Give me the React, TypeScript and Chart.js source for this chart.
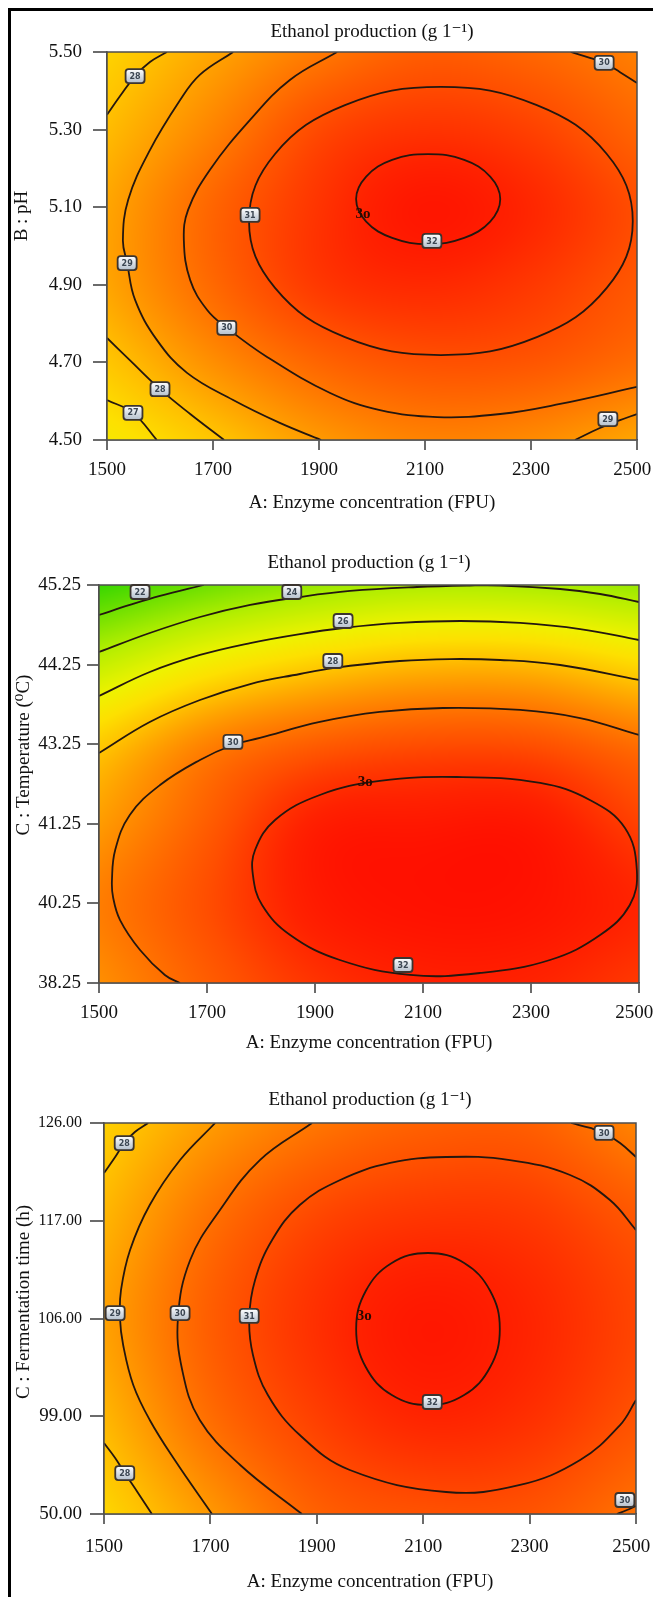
import React, { useEffect, useRef } from 'react';
import { Chart, registerables } from 'chart.js';

Chart.register(...registerables);

const FONT = '"Liberation Serif", "DejaVu Serif", "Times New Roman", serif';
const TEXT = '#111111';
const LINE = '#24170f';

const TITLE = 'Ethanol production (g 1\u207B\u00B9)';
const X_TITLE = 'A: Enzyme concentration (FPU)';
const X_MIN = 1500;
const X_MAX = 2500;
const X_STEP = 200;

// colour scale of the response (g/l)
const COLOR_VALUES = [20, 22, 24, 26, 27, 28, 29, 30, 31, 32, 33];
const COLOR_STOPS = ['#2ad400', '#6ee000', '#b4ee00', '#eef200', '#fde000', '#ffc000', '#ff9a00', '#ff7400', '#ff4e00', '#ff2200', '#ff0000'];

// response read on a grid (columns = enzyme concentration)
const GRID_X = [1500, 1700, 1900, 2100, 2300, 2500];

// ---------- panel 1 : A x B (pH) ----------
const P1_GRID_Y = [4.5, 4.7, 4.9, 5.1, 5.3, 5.5];
const P1_Z = [
  [26.6, 27.8, 29.0, 29.6, 29.4, 28.7],
  [27.8, 29.3, 30.4, 30.9, 30.8, 30.2],
  [28.7, 30.3, 31.5, 31.85, 31.5, 30.75],
  [28.7, 30.4, 31.6, 32.35, 31.9, 31.0],
  [28.1, 29.6, 31.1, 31.6, 31.3, 30.4],
  [27.4, 28.7, 29.85, 30.6, 30.35, 29.7],
];
const P1_C27 = [[1500, 4.603], [1549, 4.570], [1594, 4.5]];
const P1_C28_TOP = [[1500, 5.338], [1525, 5.387], [1553, 5.438], [1581, 5.474], [1613, 5.5]];
const P1_C28_BOTTOM = [[1500, 4.763], [1543, 4.706], [1600, 4.631], [1657, 4.567], [1721, 4.5]];
const P1_C29_LEFT = [[1738, 5.5], [1675, 5.441], [1638, 5.376], [1581, 5.247], [1540, 5.119], [1530, 5.015], [1538, 4.956], [1553, 4.861], [1594, 4.758], [1651, 4.673], [1738, 4.603], [1826, 4.544], [1904, 4.5]];
const P1_C29_RIGHT = [[2383, 4.5], [2430, 4.531], [2468, 4.551], [2500, 4.567]];
const P1_C30_LEFT = [[1934, 5.5], [1845, 5.428], [1770, 5.325], [1694, 5.196], [1653, 5.093], [1645, 5.015], [1657, 4.912], [1689, 4.835], [1726, 4.789], [1802, 4.714], [1921, 4.621], [2015, 4.577], [2123, 4.559], [2242, 4.567], [2355, 4.593], [2500, 4.637]];
const P1_C30_RIGHT = [[2375, 5.5], [2411, 5.485], [2438, 5.472], [2468, 5.448], [2500, 5.42]];
const P1_C31 = [[2130, 5.410], [1949, 5.363], [1817, 5.237], [1768, 5.064], [1817, 4.892], [1949, 4.765], [2130, 4.719], [2311, 4.765], [2443, 4.892], [2492, 5.064], [2443, 5.237], [2311, 5.363]];
const P1_C32 = [[2106, 5.237], [2038, 5.222], [1989, 5.179], [1970, 5.121], [1989, 5.063], [2038, 5.021], [2106, 5.005], [2174, 5.021], [2223, 5.063], [2242, 5.121], [2223, 5.179], [2174, 5.222]];
const P1_LABELS = [
  { x: 1553, y: 5.438, t: '28' }, { x: 2438, y: 5.472, t: '30' }, { x: 1770, y: 5.080, t: '31' },
  { x: 1538, y: 4.956, t: '29' }, { x: 1726, y: 4.789, t: '30' }, { x: 1600, y: 4.631, t: '28' },
  { x: 1549, y: 4.570, t: '27' }, { x: 2113, y: 5.013, t: '32' }, { x: 2445, y: 4.554, t: '29' },
  { x: 1983, y: 5.082, t: '3o', plain: true },
];

// ---------- panel 2 : A x C (temperature) ----------
const P2_Y_LABELS = ['38.25', '40.25', '41.25', '43.25', '44.25', '45.25'];
const P2_GRID_Y = [0, 1, 2, 3, 4, 5];
const P2_Z = [
  [29.3, 30.6, 31.6, 32.05, 32.0, 31.5],
  [29.75, 31.0, 32.2, 32.5, 32.45, 31.95],
  [28.95, 30.6, 32.1, 32.3, 32.3, 31.3],
  [27.69, 29.63, 30.6, 31.0, 30.95, 30.14],
  [24.57, 26.44, 27.56, 28.19, 28.15, 27.24],
  [20.4, 22.0, 23.2, 23.85, 23.75, 23.2],
];
const P2_C22 = [[1500, 4.623], [1557, 4.749], [1613, 4.862], [1694, 5.0]];
const P2_C24 = [[1500, 4.158], [1594, 4.397], [1687, 4.598], [1780, 4.749], [1872, 4.849], [1965, 4.925], [2089, 4.975], [2187, 4.994], [2243, 4.994], [2354, 4.950], [2428, 4.887], [2500, 4.786]];
const P2_C26 = [[1500, 3.606], [1594, 3.907], [1687, 4.121], [1780, 4.271], [1872, 4.384], [1952, 4.460], [2057, 4.523], [2169, 4.548], [2280, 4.523], [2391, 4.447], [2500, 4.309]];
const P2_C28 = [[1500, 2.889], [1594, 3.279], [1687, 3.555], [1780, 3.756], [1872, 3.882], [1933, 3.957], [2057, 4.045], [2150, 4.070], [2243, 4.058], [2354, 3.995], [2500, 3.807]];
const P2_C30 = [[2500, 3.116], [2391, 3.329], [2280, 3.430], [2137, 3.455], [2020, 3.405], [1909, 3.279], [1798, 3.078], [1748, 2.990], [1687, 2.802], [1613, 2.487], [1557, 2.111], [1530, 1.671], [1524, 1.294], [1526, 1.080], [1539, 0.791], [1576, 0.415], [1622, 0.101], [1650, 0]];
const P2_C32 = [[2163, 2.588], [2020, 2.538], [1909, 2.362], [1826, 2.048], [1789, 1.671], [1785, 1.357], [1802, 0.980], [1854, 0.603], [1946, 0.289], [2076, 0.101], [2206, 0.126], [2335, 0.289], [2428, 0.603], [2483, 0.980], [2496, 1.420], [2474, 1.947], [2409, 2.299], [2317, 2.513]];
const P2_LABELS = [
  { x: 1576, y: 4.912, t: '22' }, { x: 1857, y: 4.912, t: '24' }, { x: 1952, y: 4.548, t: '26' },
  { x: 1933, y: 4.045, t: '28' }, { x: 1748, y: 3.028, t: '30' }, { x: 2063, y: 0.226, t: '32' },
  { x: 1993, y: 2.525, t: '3o', plain: true },
];

// ---------- panel 3 : A x C (fermentation time) ----------
const P3_Y_LABELS = ['50.00', '99.00', '106.00', '117.00', '126.00'];
const P3_GRID_Y = [0, 1, 2, 3, 4];
const P3_Z = [
  [27.3, 29.05, 30.5, 30.9, 30.85, 30.05],
  [28.25, 30.2, 31.35, 31.95, 31.7, 30.9],
  [28.8, 30.6, 31.7, 32.3, 31.95, 31.2],
  [28.3, 30.1, 31.2, 31.6, 31.5, 30.8],
  [27.5, 28.95, 29.95, 30.5, 30.55, 29.6],
];
const P3_C28_TOP = [[1500, 3.488], [1521, 3.652], [1538, 3.795], [1558, 3.908], [1583, 4.0]];
const P3_C28_BOTTOM = [[1500, 0.726], [1521, 0.573], [1539, 0.419], [1564, 0.215], [1590, 0]];
const P3_C29 = [[1709, 4.0], [1643, 3.621], [1586, 3.161], [1549, 2.701], [1532, 2.292], [1530, 2.005], [1536, 1.729], [1555, 1.320], [1586, 0.962], [1633, 0.552], [1703, 0]];
const P3_C30_LEFT = [[1891, 4.0], [1793, 3.621], [1718, 3.110], [1662, 2.598], [1639, 2.005], [1647, 1.473], [1680, 0.962], [1756, 0.501], [1872, 0]];
const P3_C30_TOPRIGHT = [[2378, 4.0], [2414, 3.949], [2440, 3.898], [2470, 3.795], [2500, 3.652]];
const P3_C30_BOTTOMRIGHT = [[2464, 0], [2483, 0.041], [2500, 0.082]];
const P3_C31 = [[2500, 2.905], [2451, 3.212], [2376, 3.468], [2263, 3.621], [2143, 3.652], [2038, 3.591], [1944, 3.417], [1868, 3.161], [1816, 2.803], [1784, 2.394], [1773, 2.005], [1780, 1.627], [1808, 1.217], [1868, 0.808], [1962, 0.450], [2143, 0.225], [2282, 0.297], [2395, 0.552], [2470, 0.910], [2500, 1.166]];
const P3_C32 = [[2109, 2.670], [2041, 2.568], [1992, 2.281], [1974, 1.893], [1992, 1.504], [2041, 1.217], [2109, 1.115], [2177, 1.217], [2226, 1.504], [2244, 1.893], [2226, 2.281], [2177, 2.568]];
const P3_LABELS = [
  { x: 1538, y: 3.795, t: '28' }, { x: 2440, y: 3.898, t: '30' }, { x: 1521, y: 2.056, t: '29' },
  { x: 1643, y: 2.056, t: '30' }, { x: 1773, y: 2.026, t: '31' }, { x: 2117, y: 1.146, t: '32' },
  { x: 1539, y: 0.419, t: '28' }, { x: 2479, y: 0.143, t: '30' },
  { x: 1989, y: 2.026, t: '3o', plain: true },
];

// ---------- helpers ----------
const hexToRgb = (h: string) => [parseInt(h.slice(1, 3), 16), parseInt(h.slice(3, 5), 16), parseInt(h.slice(5, 7), 16)];
const STOP_RGB = COLOR_STOPS.map(hexToRgb);

function colorFor(v: number) {
  if (v <= COLOR_VALUES[0]) return STOP_RGB[0];
  for (let i = 1; i < COLOR_VALUES.length; i++) {
    if (v <= COLOR_VALUES[i]) {
      const t = (v - COLOR_VALUES[i - 1]) / (COLOR_VALUES[i] - COLOR_VALUES[i - 1]);
      const a = STOP_RGB[i - 1];
      const b = STOP_RGB[i];
      return [a[0] + (b[0] - a[0]) * t, a[1] + (b[1] - a[1]) * t, a[2] + (b[2] - a[2]) * t];
    }
  }
  return STOP_RGB[STOP_RGB.length - 1];
}

function padGrid(z: number[][]) {
  const ny = z.length;
  const nx = z[0].length;
  const rows = z.map((r) => [2 * r[0] - r[1], ...r, 2 * r[nx - 1] - r[nx - 2]]);
  const first = rows[0].map((v, i) => 2 * v - rows[1][i]);
  const last = rows[ny - 1].map((v, i) => 2 * v - rows[ny - 2][i]);
  return [first, ...rows, last];
}

function cr(p0: number, p1: number, p2: number, p3: number, t: number) {
  return 0.5 * (2 * p1 + (-p0 + p2) * t + (2 * p0 - 5 * p1 + 4 * p2 - p3) * t * t + (-p0 + 3 * p1 - 3 * p2 + p3) * t * t * t);
}

function sampleGrid(P: number[][], fx: number, fy: number) {
  const nx = P[0].length - 2;
  const ny = P.length - 2;
  let ix = Math.floor(fx);
  if (ix > nx - 2) ix = nx - 2;
  if (ix < 0) ix = 0;
  const tx = fx - ix;
  let iy = Math.floor(fy);
  if (iy > ny - 2) iy = ny - 2;
  if (iy < 0) iy = 0;
  const ty = fy - iy;
  const row = (r: number) => cr(P[r][ix], P[r][ix + 1], P[r][ix + 2], P[r][ix + 3], tx);
  return cr(row(iy), row(iy + 1), row(iy + 2), row(iy + 3), ty);
}

// a closed contour: the ring plus wrap-around points so that the spline is smooth at the seam
const ring = (pts: number[][]) => ({ pts: [pts[pts.length - 1], ...pts, pts[0], pts[1]], loop: true });
const open = (pts: number[][]) => ({ pts, loop: false });

type Panel = any;

const PANELS: Panel[] = [
  {
    top: 0, height: 530, yBoxW: 107, padRight: 16, padBottom: 15.6,
    titlePadTop: 20.6, titlePadBottom: 8.6, xBoxH: 74.4, xTickLen: 10, xTickPad: 8.6,
    yTickLen: 14, yTickPad: 11, yMin: 4.5, yMax: 5.5, yStep: 0.2,
    yLabel: (v: number) => Number(v).toFixed(2),
    yTitle: 'B : pH', yTitleX: 22, yTitleY: 216,
    contours: [open(P1_C27), open(P1_C28_TOP), open(P1_C28_BOTTOM), open(P1_C29_LEFT), open(P1_C29_RIGHT), open(P1_C30_LEFT), open(P1_C30_RIGHT), ring(P1_C31), ring(P1_C32)],
    labels: P1_LABELS, gridY: P1_GRID_Y, z: P1_Z,
  },
  {
    top: 530, height: 535, yBoxW: 99, padRight: 14, padBottom: 10.6,
    titlePadTop: 21.6, titlePadBottom: 10.6, xBoxH: 71.4, xTickLen: 10, xTickPad: 8.6,
    yTickLen: 12, yTickPad: 6, yMin: 0, yMax: 5, yStep: 1,
    yLabel: (v: number) => P2_Y_LABELS[Math.round(v)] ?? '',
    yTitle: 'C : Temperature (\u2070C)', yTitleX: 24, yTitleY: 225,
    contours: [open(P2_C22), open(P2_C24), open(P2_C26), open(P2_C28), open(P2_C30), ring(P2_C32)],
    labels: P2_LABELS, gridY: P2_GRID_Y, z: P2_Z,
  },
  {
    top: 1065, height: 532, yBoxW: 104, padRight: 17, padBottom: 3.6,
    titlePadTop: 23.6, titlePadBottom: 11.6, xBoxH: 79.4, xTickLen: 10, xTickPad: 11.6,
    yTickLen: 14, yTickPad: 8, yMin: 0, yMax: 4, yStep: 1,
    yLabel: (v: number) => P3_Y_LABELS[Math.round(v)] ?? '',
    yTitle: 'C : Fermentation time (h)', yTitleX: 24, yTitleY: 237,
    contours: [open(P3_C28_TOP), open(P3_C28_BOTTOM), open(P3_C29), open(P3_C30_LEFT), open(P3_C30_TOPRIGHT), open(P3_C30_BOTTOMRIGHT), open(P3_C31), ring(P3_C32)],
    labels: P3_LABELS, gridY: P3_GRID_Y, z: P3_Z,
  },
];

function makePlugins(p: Panel) {
  const heatmap = {
    id: 'heatmap',
    beforeDatasetsDraw(chart: any) {
      const area = chart.chartArea;
      const x0 = Math.round(area.left);
      const y0 = Math.round(area.top);
      const w = Math.round(area.right) - x0;
      const h = Math.round(area.bottom) - y0;
      const off = document.createElement('canvas');
      off.width = w;
      off.height = h;
      const octx = off.getContext('2d') as CanvasRenderingContext2D;
      const img = octx.createImageData(w, h);
      const P = padGrid(p.z);
      const xs = GRID_X;
      const ys = p.gridY;
      const dx = xs[1] - xs[0];
      const dy = ys[1] - ys[0];
      const fxs = new Float64Array(w);
      for (let i = 0; i < w; i++) fxs[i] = (chart.scales.x.getValueForPixel(x0 + i + 0.5) - xs[0]) / dx;
      const fys = new Float64Array(h);
      for (let j = 0; j < h; j++) fys[j] = (chart.scales.y.getValueForPixel(y0 + j + 0.5) - ys[0]) / dy;
      const d = img.data;
      for (let j = 0; j < h; j++) {
        for (let i = 0; i < w; i++) {
          const v = sampleGrid(P, fxs[i], fys[j]);
          const c = colorFor(v);
          const k = (j * w + i) * 4;
          d[k] = c[0];
          d[k + 1] = c[1];
          d[k + 2] = c[2];
          d[k + 3] = 255;
        }
      }
      octx.putImageData(img, 0, 0);
      chart.ctx.drawImage(off, x0, y0);
    },
  };
  const labels = {
    id: 'contourLabels',
    afterDatasetsDraw(chart: any) {
      const ctx = chart.ctx as CanvasRenderingContext2D;
      const { left, top, right, bottom } = chart.chartArea;
      ctx.save();
      ctx.strokeStyle = '#4d4d4d';
      ctx.lineWidth = 1.5;
      ctx.strokeRect(left, top, right - left, bottom - top);
      ctx.textAlign = 'center';
      ctx.textBaseline = 'middle';
      for (const lb of p.labels) {
        const px = chart.scales.x.getPixelForValue(lb.x);
        const py = chart.scales.y.getPixelForValue(lb.y);
        if (lb.plain) {
          ctx.font = `bold 15px ${FONT}`;
          ctx.fillStyle = '#2a0a00';
          ctx.fillText(lb.t, px, py);
          continue;
        }
        const w = 19;
        const h = 14;
        const g = ctx.createLinearGradient(0, py - h / 2, 0, py + h / 2);
        g.addColorStop(0, '#ffffff');
        g.addColorStop(1, '#b3bfcc');
        ctx.beginPath();
        (ctx as any).roundRect(px - w / 2, py - h / 2, w, h, 3);
        ctx.fillStyle = g;
        ctx.fill();
        ctx.lineWidth = 1.8;
        ctx.strokeStyle = '#3b342f';
        ctx.stroke();
        ctx.font = 'bold 8px "DejaVu Sans", sans-serif';
        ctx.fillStyle = '#3b4652';
        ctx.fillText(lb.t, px, py + 0.5);
      }
      ctx.restore();
    },
  };
  const yTitle = {
    id: 'yTitle',
    afterDraw(chart: any) {
      const ctx = chart.ctx as CanvasRenderingContext2D;
      ctx.save();
      ctx.translate(p.yTitleX, p.yTitleY);
      ctx.rotate(-Math.PI / 2);
      ctx.font = `19px ${FONT}`;
      ctx.fillStyle = TEXT;
      ctx.textAlign = 'center';
      ctx.textBaseline = 'middle';
      ctx.fillText(p.yTitle, 0, 0);
      ctx.restore();
    },
  };
  return [heatmap, labels, yTitle];
}

const HIDDEN = 'rgba(0,0,0,0)';

function ContourPanel({ p }: { p: Panel }) {
  const ref = useRef<HTMLCanvasElement | null>(null);
  useEffect(() => {
    if (!ref.current) return;
    const chart = new Chart(ref.current, {
      type: 'scatter',
      data: {
        datasets: p.contours.map((c: any) => {
          const lastIdx = c.pts.length - 1;
          return {
            data: c.pts.map(([x, y]: number[]) => ({ x, y })),
            showLine: true,
            tension: 0.4,
            borderColor: LINE,
            borderWidth: 1.8,
            pointRadius: 0,
            pointHoverRadius: 0,
            fill: false,
            segment: c.loop
              ? { borderColor: (s: any) => (s.p0DataIndex === 0 || s.p1DataIndex === lastIdx ? HIDDEN : LINE) }
              : undefined,
          };
        }),
      },
      options: {
        animation: false,
        responsive: false,
        events: [],
        layout: { padding: { left: 0, right: p.padRight, top: 0, bottom: p.padBottom } },
        plugins: {
          legend: { display: false },
          tooltip: { enabled: false },
          title: {
            display: true,
            text: TITLE,
            fullSize: false,
            color: TEXT,
            font: { family: FONT, size: 19, weight: 'normal' },
            padding: { top: p.titlePadTop, bottom: p.titlePadBottom },
          },
        },
        scales: {
          x: {
            type: 'linear',
            min: X_MIN,
            max: X_MAX,
            afterFit: (s: any) => { s.height = p.xBoxH; s.paddingLeft = 0; s.paddingRight = 0; },
            ticks: {
              stepSize: X_STEP,
              autoSkip: false,
              maxRotation: 0,
              padding: p.xTickPad,
              color: TEXT,
              font: { family: FONT, size: 19 },
              // the last label is nudged inwards so that it stays inside the page
              callback: (v: any) => (Number(v) === X_MAX ? String(v) + '\u2002' : String(v)),
            },
            grid: { drawOnChartArea: false, drawTicks: true, tickLength: p.xTickLen, color: '#6b6b6b', lineWidth: 2 },
            border: { display: true, color: '#555555', width: 1.5 },
            title: { display: true, text: X_TITLE, color: TEXT, font: { family: FONT, size: 19 }, padding: 0 },
          },
          y: {
            type: 'linear',
            min: p.yMin,
            max: p.yMax,
            afterFit: (s: any) => { s.width = p.yBoxW; s.paddingTop = 0; s.paddingBottom = 0; },
            ticks: {
              stepSize: p.yStep,
              autoSkip: false,
              padding: p.yTickPad,
              color: TEXT,
              font: (ctx: any) => {
                const lbl = p.yLabel(ctx.tick ? ctx.tick.value : 0);
                return { family: FONT, size: lbl.length > 5 ? 16 : 19 };
              },
              callback: (v: any) => p.yLabel(Number(v)),
            },
            grid: { drawOnChartArea: false, drawTicks: true, tickLength: p.yTickLen, color: '#6b6b6b', lineWidth: 2 },
            border: { display: true, color: '#555555', width: 1.5 },
          },
        },
      } as any,
      plugins: makePlugins(p) as any,
    });
    return () => chart.destroy();
  }, [p]);
  return (
    <canvas
      ref={ref}
      width={653}
      height={p.height}
      style={{ position: 'absolute', left: 0, top: p.top, width: 653, height: p.height, display: 'block' }}
    />
  );
}

export default function App() {
  return (
    <div style={{ position: 'absolute', left: 0, top: 0, width: 653, height: 1597, overflow: 'hidden', background: '#ffffff' }}>
      <div
        style={{
          position: 'absolute', left: 8, top: 8, width: 645, height: 1589,
          borderTop: '3px solid #000', borderLeft: '3px solid #000', boxSizing: 'border-box',
        }}
      />
      {PANELS.map((p, i) => (
        <ContourPanel key={i} p={p} />
      ))}
    </div>
  );
}
